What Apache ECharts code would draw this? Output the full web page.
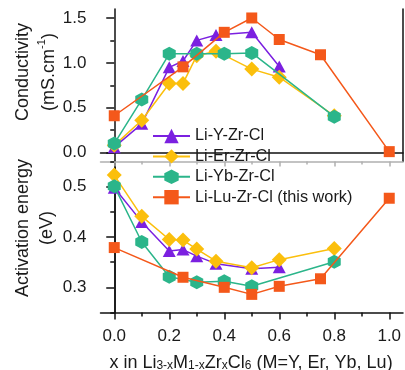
<!DOCTYPE html>
<html><head><meta charset="utf-8">
<script src="https://cdn.jsdelivr.net/npm/echarts@6/dist/echarts.min.js"></script>
<style>html,body{margin:0;padding:0;background:#fff}#c{width:405px;height:370px}</style>
</head><body><div id="c"></div>
<script>
const seriesNames = ['Li-Y-Zr-Cl', 'Li-Er-Zr-Cl', 'Li-Yb-Zr-Cl', 'Li-Lu-Zr-Cl (this work)'];
const xY = [0, 0.1, 0.2, 0.25, 0.3, 0.37, 0.5, 0.6];
const condY = [0.06, 0.32, 0.95, 1.02, 1.25, 1.31, 1.34, 0.96];
const eaY = [0.498, 0.43, 0.372, 0.375, 0.362, 0.347, 0.337, 0.34];
const xEr = [0, 0.1, 0.2, 0.25, 0.3, 0.37, 0.5, 0.6, 0.8];
const condEr = [0.08, 0.36, 0.77, 0.77, 1.08, 1.13, 0.93, 0.84, 0.41];
const eaEr = [0.523, 0.441, 0.395, 0.394, 0.376, 0.352, 0.339, 0.355, 0.377];
const xYb = [0, 0.1, 0.2, 0.3, 0.4, 0.5, 0.8];
const condYb = [0.10, 0.59, 1.10, 1.10, 1.10, 1.11, 0.40];
const eaYb = [0.501, 0.39, 0.321, 0.31, 0.312, 0.302, 0.351];
const xLu = [0, 0.25, 0.4, 0.5, 0.6, 0.75, 1.0];
const condLu = [0.41, 0.955, 1.34, 1.50, 1.26, 1.09, 0.01];
const eaLu = [0.379, 0.32, 0.30, 0.286, 0.302, 0.317, 0.477];
const xMajor = [0, 0.2, 0.4, 0.6, 0.8, 1.0];
const xMinor = [0.1, 0.3, 0.5, 0.7, 0.9];
const condMajor = [0, 0.5, 1.0, 1.5];
const condMinor = [0.25, 0.75, 1.25];
const eaMajor = [0.3, 0.4, 0.5];
const eaMinor = [0.25, 0.35, 0.45, 0.55];

const FONT = 'Liberation Sans';
const TXT = '#1a1a1a';
const colors = ['#7b20e0', '#fbbf0c', '#2bb58a', '#f4581a'];
const HEX = 'path://M0,-10 L8.66,-5 L8.66,5 L0,10 L-8.66,5 L-8.66,-5 Z';
const symbols = ['triangle', 'diamond', HEX, 'rect'];
const sizes = [[13, 12], [15, 15], [13, 14], [11, 11]];

const pairs = (xs, ys) => xs.map((x, i) => [x, ys[i]]);
const topData = [pairs(xY, condY), pairs(xEr, condEr), pairs(xYb, condYb), pairs(xLu, condLu)];
const botData = [pairs(xY, eaY), pairs(xEr, eaEr), pairs(xYb, eaYb), pairs(xLu, eaLu)];

const blackLine = {show: true, lineStyle: {color: '#111', width: 1.5}};
const noLine = {show: false};
const base = {type: 'value', splitLine: {show: false}, axisLabel: {show: false}, axisTick: {show: false}, axisLine: noLine};
const lab = (vals) => ({show: true, customValues: vals, fontSize: 17, color: TXT, fontFamily: FONT, formatter: v => (+v).toFixed(1)});

const xAxis = [
  Object.assign({}, base, {gridIndex: 0, position: 'bottom', min: -0.05, max: 1.05}),
  Object.assign({}, base, {gridIndex: 0, position: 'top', min: -0.05, max: 1.05, axisLine: blackLine}),
  Object.assign({}, base, {gridIndex: 1, position: 'bottom', min: -0.05, max: 1.05, axisLine: blackLine,
    axisTick: {show: true, customValues: xMajor, length: 7, lineStyle: {color: '#111', width: 1.5}},
    axisLabel: Object.assign(lab(xMajor), {margin: 15})}),
  Object.assign({}, base, {gridIndex: 1, position: 'bottom', min: -0.05, max: 1.05,
    axisTick: {show: true, customValues: xMinor, length: 4, lineStyle: {color: '#111', width: 1.5}}}),
  Object.assign({}, base, {gridIndex: 1, position: 'top', min: -0.05, max: 1.05,
    axisLine: {show: true, lineStyle: {color: '#b0b0b0', width: 1.5}},
    axisTick: {show: true, inside: true, customValues: xMajor, length: 5, lineStyle: {color: '#b0b0b0', width: 1.5}}}),
  Object.assign({}, base, {gridIndex: 1, position: 'top', min: -0.05, max: 1.05,
    axisTick: {show: true, inside: true, customValues: xMinor, length: 3, lineStyle: {color: '#b0b0b0', width: 1.5}}})
];
const yAxis = [
  Object.assign({}, base, {gridIndex: 0, position: 'left', min: -0.1, max: 1.6, axisLine: blackLine,
    axisTick: {show: true, customValues: condMajor, length: 8, lineStyle: {color: '#111', width: 1.5}},
    axisLabel: Object.assign(lab(condMajor), {margin: 14})}),
  Object.assign({}, base, {gridIndex: 0, position: 'left', min: -0.1, max: 1.6,
    axisTick: {show: true, customValues: condMinor, length: 4, lineStyle: {color: '#111', width: 1.5}}}),
  Object.assign({}, base, {gridIndex: 0, position: 'right', min: -0.1, max: 1.6, axisLine: blackLine}),
  Object.assign({}, base, {gridIndex: 1, position: 'left', min: 0.25, max: 0.55, axisLine: blackLine,
    axisTick: {show: true, customValues: eaMajor, length: 8, lineStyle: {color: '#111', width: 1.5}},
    axisLabel: Object.assign(lab(eaMajor), {margin: 14})}),
  Object.assign({}, base, {gridIndex: 1, position: 'left', min: 0.25, max: 0.55,
    axisTick: {show: true, customValues: eaMinor, length: 4, lineStyle: {color: '#111', width: 1.5}}}),
  Object.assign({}, base, {gridIndex: 1, position: 'right', min: 0.25, max: 0.55, axisLine: blackLine})
];

const series = [];
seriesNames.forEach((name, i) => {
  [[topData[i], 0, 0], [botData[i], 2, 3]].forEach(([d, xi, yi]) => {
    series.push({
      type: 'line', name: name, data: d, xAxisIndex: xi, yAxisIndex: yi,
      symbol: symbols[i], symbolSize: sizes[i], showAllSymbol: true,
      itemStyle: {color: colors[i]}, lineStyle: {color: colors[i], width: 1.5},
      animation: false, z: 3 + i
    });
  });
});

const vText = (x, y, text, rich) => ({
  type: 'text', x: x, y: y, rotation: Math.PI / 2,
  style: {text: text, rich: rich, font: '18px ' + FONT, fontSize: 18, fontFamily: FONT, fill: TXT, align: 'center', verticalAlign: 'middle'}
});
const richA = {a: {fontSize: 18, fontFamily: FONT, fill: TXT, color: TXT, lineHeight: 22, verticalAlign: 'bottom'},
  s: {fontSize: 11, fontFamily: FONT, color: TXT, lineHeight: 11, verticalAlign: 'top'},
  b: {fontSize: 12, fontFamily: FONT, color: TXT, lineHeight: 12, verticalAlign: 'bottom'}};

const option = {
  backgroundColor: '#fff',
  animation: false,
  grid: [
    {left: 100.5, top: 9, width: 302.5, height: 152.5},
    {left: 100.5, top: 161.5, width: 302.5, height: 151}
  ],
  xAxis: xAxis,
  yAxis: yAxis,
  legend: {
    orient: 'vertical', left: 152, top: 127, padding: 0, itemWidth: 37, itemHeight: 18, itemGap: 2.4,
    data: seriesNames,
    lineStyle: {width: 2},
    textStyle: {fontSize: 16.3, color: TXT, fontFamily: FONT, lineHeight: 18}
  },
  graphic: [
    vText(23, 72, 'Conductivity'),
    vText(47, 72, '{a|(mS.cm}{s|-1}{a|)}', richA),
    vText(23, 228, 'Activation energy'),
    vText(47, 228, '(eV)'),
    {type: 'text', x: 251, y: 361,
      style: {text: '{a|x in Li}{b|3-x}{a|M}{b|1-x}{a|Zr}{b|x}{a|Cl}{b|6}{a| (M=Y, Er, Yb, Lu)}', rich: richA,
        align: 'center', verticalAlign: 'middle', fill: TXT}}
  ],
  series: series
};
const chart = echarts.init(document.getElementById('c'), null, {renderer: 'canvas'});
chart.setOption(option);
</script></body></html>
